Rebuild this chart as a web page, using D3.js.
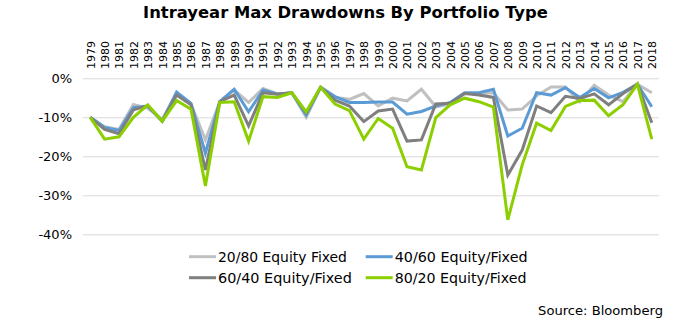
<!DOCTYPE html>
<html><head><meta charset="utf-8">
<script src="https://cdn.jsdelivr.net/npm/d3@7"></script>
<style>body{margin:0;background:#fff}svg{display:block}text{font-family:"DejaVu Sans",sans-serif;fill:#000}</style>
</head><body><svg id="c" width="694" height="330"></svg>
<script>
const years = d3.range(1979, 2019).map(String);
const eq20 = [-10,-12.4,-13.1,-6.7,-7.7,-10.5,-3.9,-6.6,-15.8,-6.0,-3.0,-6.2,-2.6,-4.0,-3.7,-10.0,-2.3,-4.9,-5.4,-3.9,-7.1,-5.1,-5.8,-2.8,-7.3,-6.6,-3.9,-3.9,-3.7,-8.1,-7.9,-4.5,-2.2,-2.2,-6.0,-1.8,-4.3,-6.0,-1.5,-3.7];
const eq40 = [-10,-12.6,-13.4,-7.5,-7.1,-11,-3.5,-6.4,-19.2,-6.0,-2.8,-8.6,-3.0,-4.0,-3.7,-9.4,-2.3,-4.7,-6.2,-6.2,-6.1,-6.1,-9.2,-8.5,-7.1,-6.2,-3.7,-3.7,-2.8,-14.8,-12.8,-3.7,-4.3,-2.4,-4.9,-2.6,-5.0,-3.6,-1.5,-7.3];
const eq60 = [-10,-13.1,-14.2,-8.1,-7.0,-11,-4.3,-6.8,-23.5,-6.0,-4.3,-12.2,-3.7,-4.1,-3.7,-8.8,-2.3,-5.6,-7.1,-11.1,-8.4,-7.9,-16.1,-15.8,-6.6,-6.4,-3.9,-4.3,-4.9,-24.8,-18.4,-7.1,-8.8,-4.6,-5.2,-4.0,-6.8,-3.9,-1.5,-11.4];
const eq80 = [-10,-15.6,-15.0,-10.0,-6.8,-11,-5.7,-7.9,-27.6,-6.2,-6.0,-16.1,-4.7,-4.9,-3.7,-8.6,-2.3,-6.6,-8.3,-15.6,-10.3,-12.8,-22.7,-23.5,-10.1,-6.8,-5.1,-6.0,-7.4,-36.3,-22.2,-11.5,-13.4,-7.2,-5.7,-5.6,-9.6,-6.8,-1.5,-15.6];
const seriesNames = ["20/80 Equity Fixed","40/60 Equity/Fixed","60/40 Equity/Fixed","80/20 Equity/Fixed"];
const yTicks = [0,-10,-20,-30,-40];
const title = "Intrayear Max Drawdowns By Portfolio Type";
const source = "Source: Bloomberg";

const colors = ["#c0c0c0","#5b9bd5","#7f7f7f","#8ccf00"];
const series = [eq20,eq40,eq60,eq80];

const svg = d3.select("#c");
const x = d3.scalePoint().domain(years).range([83,659]).padding(0.5);
const y = d3.scaleLinear().domain([-40,0]).range([234.3,78.3]);

function fit(sel, w){ const n=sel.node(); const l=n.getComputedTextLength(); const fs=parseFloat(sel.attr("font-size")); sel.attr("font-size", fs*w/l); }

// title
const t = svg.append("text").attr("x",345.5).attr("y",18).attr("text-anchor","middle")
  .attr("font-weight","bold").attr("font-size",15).text(title);
fit(t,405);

// grid
const grid = d3.axisLeft(y).tickValues(yTicks).tickSize(-(659-83)).tickFormat(d=>d+"%");
const gy = svg.append("g").attr("transform","translate(83,0)").call(grid);
gy.select(".domain").remove();
gy.selectAll(".tick line").attr("stroke","#d9d9d9").attr("stroke-width",1);
gy.selectAll(".tick text").attr("x",-11).attr("font-size",13).attr("fill","#000")
  .style("font-family","'DejaVu Sans',sans-serif");

// year labels
const gx = svg.append("g").attr("transform","translate(0,69)")
  .call(d3.axisTop(x).tickSize(0).tickPadding(0));
gx.select(".domain").remove();
gx.selectAll(".tick text").attr("transform","rotate(-90)").attr("text-anchor","start")
  .attr("x",0).attr("y",0).attr("dy","0.35em").attr("font-size",11).attr("fill","#000")
  .style("font-family","'DejaVu Sans',sans-serif");

// lines
const line = d3.line().x((d,i)=>x(years[i])).y(d=>y(d));
series.forEach((s,k)=>{
  svg.append("path").datum(s).attr("d",line).attr("fill","none")
    .attr("stroke",colors[k]).attr("stroke-width",3).attr("stroke-linejoin","miter");
});

// legend
const lx=[189,365.7], ly=[256.7,277.7], lw=[129,133,134,132];
seriesNames.forEach((n,k)=>{
  const cx=lx[k%2], cy=ly[Math.floor(k/2)];
  svg.append("line").attr("x1",cx).attr("x2",cx+27).attr("y1",cy).attr("y2",cy)
    .attr("stroke",colors[k]).attr("stroke-width",3);
  const tt = svg.append("text").attr("x",cx+29).attr("y",cy).attr("dy","0.36em").attr("font-size",12).text(n);
  fit(tt, lw[k]);
});

const st = svg.append("text").attr("x",663).attr("y",315).attr("text-anchor","end").attr("font-size",12).text(source);
fit(st,125);
</script></body></html>
